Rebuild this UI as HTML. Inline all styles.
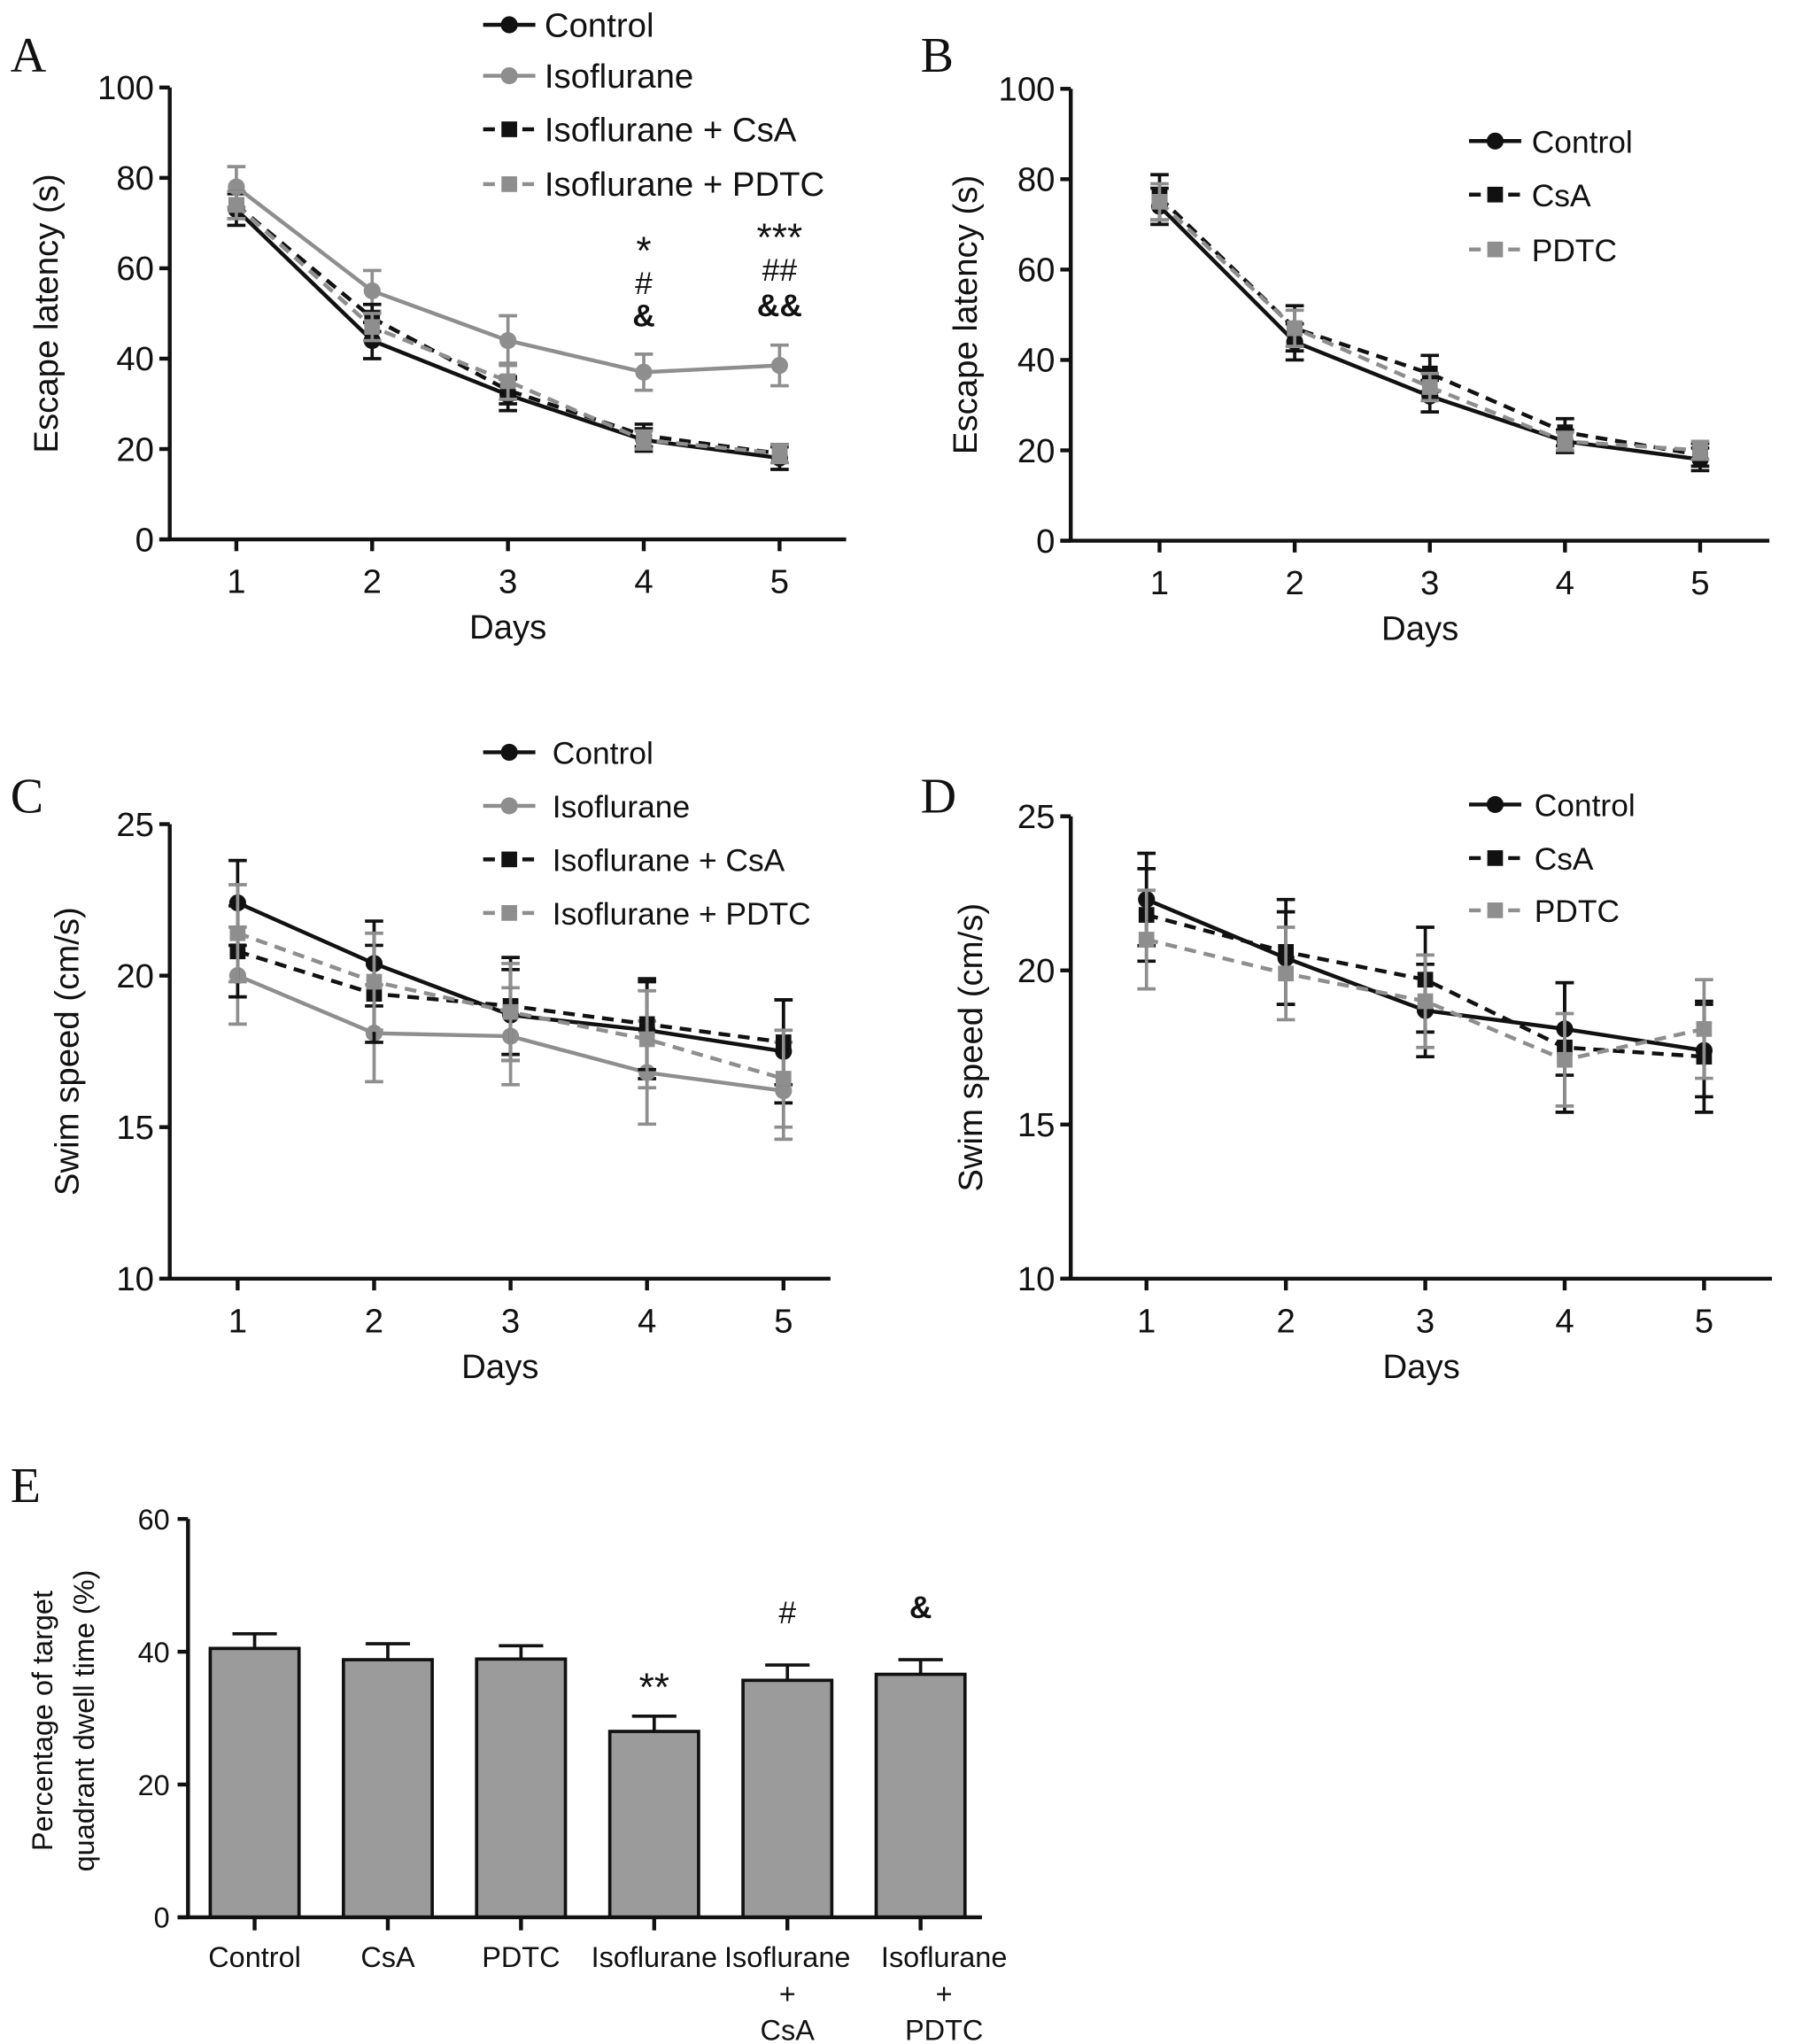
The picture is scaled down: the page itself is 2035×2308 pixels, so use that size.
<!DOCTYPE html>
<html><head><meta charset="utf-8"><style>
html,body{margin:0;padding:0;background:#fff}
svg{display:block}
text{font-family:"Liberation Sans",Arial,sans-serif;fill:#111}
</style></head><body>
<svg id="fig" width="2035" height="2308" viewBox="0 0 1380 1565" preserveAspectRatio="none" xmlns="http://www.w3.org/2000/svg"></svg>
<script>
const days=["1","2","3","4","5"];
// Panel A escape latency
const aControl=[73,44,32,22,18], aControlErr=[3.5,4,3.5,2.5,2.5];
const aIso=[78,55,44,37,38.5], aIsoErr=[4.5,4.5,5.5,4,4.5];
const aCsA=[74,49,33,23,19], aCsAErr=[3,3,3,2.5,2];
const aPDTC=[74,47,35,22,19], aPDTCErr=[3,3,4,2,2];
const aTicks=[0,20,40,60,80,100];
// Panel B
const bControl=[74,44,32,22,18], bControlErr=[4,4,3.5,2.5,2.5];
const bCsA=[76,47,37,24,19], bCsAErr=[5,5,4,3,2.5];
const bPDTC=[75,47,34,22,20], bPDTCErr=[4,4,3,2,2];
// Panel C swim speed
const cControl=[22.4,20.4,18.7,18.2,17.5], cControlErr=[1.4,1.4,1.5,1.6,1.7];
const cIso=[20,18.1,18,16.8,16.2], cIsoErr=[1.6,1.6,1.6,1.7,1.6];
const cCsA=[20.8,19.4,19,18.4,17.8], cCsAErr=[1.5,1.6,1.6,1.5,1.4];
const cPDTC=[21.4,19.8,18.8,17.9,16.6], cPDTCErr=[1.6,1.6,1.6,1.6,1.6];
const cTicks=[10,15,20,25];
// Panel D
const dControl=[22.3,20.4,18.7,18.1,17.4], dControlErr=[1.5,1.5,1.5,1.5,1.5];
const dCsA=[21.8,20.6,19.7,17.5,17.2], dCsAErr=[1.5,1.7,1.7,2.1,1.8];
const dPDTC=[21,19.9,19,17.1,18.1], dPDTCErr=[1.6,1.5,1.5,1.5,1.6];
// Panel E
const eCats=[["Control"],["CsA"],["PDTC"],["Isoflurane"],["Isoflurane","+","CsA"],["Isoflurane","+","PDTC"]];
const eVals=[40.5,38.8,38.9,28,35.7,36.6];
const eErr=[2.2,2.4,2,2.3,2.3,2.2];
const eTicks=[0,20,40,60];
const eMarks=["","","","**","#","&"];

const NS="http://www.w3.org/2000/svg";
const svg=document.getElementById('fig');
function mk(tag,attrs,parent,txt){const e=document.createElementNS(NS,tag);for(const k in attrs)e.setAttribute(k,attrs[k]);if(txt!==undefined)e.textContent=txt;(parent||svg).appendChild(e);return e;}
const BLK="#111", GRY="#8e8e8e";

function linePanel(id,cfg){
  const g=mk('g',{});
  
  
  const {x0,x1,yTop,yBot,vmin,vmax,ticks,dayX,series}=cfg;
  const ys=v=>yBot-(v-vmin)/(vmax-vmin)*(yBot-yTop);
  const xs=i=>dayX[0]+i*(dayX[1]-dayX[0]);
  const ya=mk('line',{x1:x0,y1:yTop,x2:x0,y2:yBot,stroke:BLK,'stroke-width':3},g);
  
  const xa=mk('line',{x1:x0-8,y1:yBot,x2:x1,y2:yBot,stroke:BLK,'stroke-width':3},g);
  
  ticks.forEach(t=>{
    mk('line',{x1:x0-8,y1:ys(t),x2:x0,y2:ys(t),stroke:BLK,'stroke-width':3},g);
    const tl=mk('text',{x:x0-12,y:ys(t)+9,'text-anchor':'end','font-size':26},g,String(t));
    
  });
  days.forEach((d,i)=>{
    mk('line',{x1:xs(i),y1:yBot,x2:xs(i),y2:yBot+9,stroke:BLK,'stroke-width':3},g);
    const tl=mk('text',{x:xs(i),y:yBot+41,'text-anchor':'middle','font-size':26},g,d);
    
  });
  const xt=mk('text',{x:(x0+x1)/2,y:yBot+76,'text-anchor':'middle','font-size':26},g,'Days');
  
  const cy=(yTop+yBot)/2;
  const yt=mk('text',{x:0,y:0,'text-anchor':'middle','font-size':26,transform:`translate(${cfg.ylx},${cy}) rotate(-90)`},g,cfg.ylabel);
  
  series.forEach(s=>{
    const sg=mk('g',{},g);
    
    
    const pts=s.v.map((v,i)=>xs(i)+','+ys(v)).join(' ');
    mk('polyline',{points:pts,fill:'none',stroke:s.c,'stroke-width':3,'stroke-dasharray':s.dash?'9,6':'none'},sg);
    s.v.forEach((v,i)=>{
      const x=xs(i),e=s.e[i];
      mk('line',{x1:x,y1:ys(v+e),x2:x,y2:ys(v-e),stroke:s.c,'stroke-width':2.5},sg);
      mk('line',{x1:x-7,y1:ys(v+e),x2:x+7,y2:ys(v+e),stroke:s.c,'stroke-width':2.5},sg);
      mk('line',{x1:x-7,y1:ys(v-e),x2:x+7,y2:ys(v-e),stroke:s.c,'stroke-width':2.5},sg);
      let m;
      if(s.sq) m=mk('rect',{x:x-6,y:ys(v)-6,width:12,height:12,fill:s.c},sg);
      else m=mk('circle',{cx:x,cy:ys(v),r:6.5,fill:s.c},sg);
      
      
    });
  });
  const lg=mk('g',{},g);
  
  series.forEach((s,k)=>{
    const y=cfg.legY[k], lx=cfg.legX;
    const le=mk('g',{},lg);
    
    mk('line',{x1:lx,y1:y,x2:lx+40,y2:y,stroke:s.c,'stroke-width':3,'stroke-dasharray':s.dash?'9,6':'none'},le);
    if(s.sq) mk('rect',{x:lx+14,y:y-6,width:12,height:12,fill:s.c},le);
    else mk('circle',{cx:lx+20,cy:y,r:6.5,fill:s.c},le);
    mk('text',{x:cfg.legTX,y:y+9,'font-size':cfg.legFS||26},le,s.name);
  });
  return {g,xs,ys};
}

function letter(t,x,y){const e=mk('text',{x:x,y:y,'font-size':38,style:'font-family:"Liberation Serif",serif'},svg,t);}
letter('A',8,55);letter('B',705,55);letter('C',8,622);letter('D',705,622);letter('E',8,1150);

linePanel('panel-a',{x0:130,x1:648,yTop:67,yBot:413,vmin:0,vmax:100,ticks:aTicks,dayX:[181,285],ylx:44,ylabel:'Escape latency (s)',
 legX:370,legTX:417,legY:[19,58,99,141],
 series:[{key:'control',name:'Control',v:aControl,e:aControlErr,c:BLK},
 {key:'isoflurane',name:'Isoflurane',v:aIso,e:aIsoErr,c:GRY},
 {key:'iso-csa',name:'Isoflurane + CsA',v:aCsA,e:aCsAErr,c:BLK,dash:1,sq:1},
 {key:'iso-pdtc',name:'Isoflurane + PDTC',v:aPDTC,e:aPDTCErr,c:GRY,dash:1,sq:1}]});
[['*',493,202],['#',493,225],['&',493,250],['***',597,192],['##',597,215],['&&',597,242]].forEach(a=>{
 const t=mk('text',{x:a[1],y:a[2],'text-anchor':'middle','font-size':a[0].includes('*')?30:24,'font-weight':a[0].includes('&')?'bold':'normal'},svg,a[0]);
 });

linePanel('panel-b',{x0:820,x1:1355,yTop:68,yBot:414,vmin:0,vmax:100,ticks:aTicks,dayX:[888,991.5],ylx:748,ylabel:'Escape latency (s)',
 legX:1125,legTX:1173,legY:[108,149,191],legFS:24,
 series:[{key:'control',name:'Control',v:bControl,e:bControlErr,c:BLK},
 {key:'csa',name:'CsA',v:bCsA,e:bCsAErr,c:BLK,dash:1,sq:1},
 {key:'pdtc',name:'PDTC',v:bPDTC,e:bPDTCErr,c:GRY,dash:1,sq:1}]});

linePanel('panel-c',{x0:130,x1:636,yTop:631,yBot:979,vmin:10,vmax:25,ticks:cTicks,dayX:[182,286.5],ylx:60,ylabel:'Swim speed (cm/s)',
 legX:370,legTX:423,legY:[576,617,658,699],legFS:24,
 series:[{key:'control',name:'Control',v:cControl,e:cControlErr,c:BLK},
 {key:'isoflurane',name:'Isoflurane',v:cIso,e:cIsoErr,c:GRY},
 {key:'iso-csa',name:'Isoflurane + CsA',v:cCsA,e:cCsAErr,c:BLK,dash:1,sq:1},
 {key:'iso-pdtc',name:'Isoflurane + PDTC',v:cPDTC,e:cPDTCErr,c:GRY,dash:1,sq:1}]});

linePanel('panel-d',{x0:820,x1:1357,yTop:625,yBot:979,vmin:10,vmax:25,ticks:cTicks,dayX:[878,984.75],ylx:752,ylabel:'Swim speed (cm/s)',
 legX:1125,legTX:1175,legY:[616,657,697],legFS:24,
 series:[{key:'control',name:'Control',v:dControl,e:dControlErr,c:BLK},
 {key:'csa',name:'CsA',v:dCsA,e:dCsAErr,c:BLK,dash:1,sq:1},
 {key:'pdtc',name:'PDTC',v:dPDTC,e:dPDTCErr,c:GRY,dash:1,sq:1}]});

(function(){
 const g=mk('g',{});
 
 const x0=144,x1=752,yTop=1163,yBot=1468,vmax=60;
 const ys=v=>yBot-v/vmax*(yBot-yTop);
 const xc=i=>195+i*102;
 const bw=68;
 eVals.forEach((v,i)=>{
   const x=xc(i),e=eErr[i];
   mk('line',{x1:x,y1:ys(v),x2:x,y2:ys(v+e),stroke:BLK,'stroke-width':2.5},g);
   mk('line',{x1:x-17,y1:ys(v+e),x2:x+17,y2:ys(v+e),stroke:BLK,'stroke-width':2.5},g);
   const b=mk('rect',{x:x-bw/2,y:ys(v),width:bw,height:yBot-ys(v),fill:'#9b9b9b',stroke:BLK,'stroke-width':2.5},g);
   
   
   mk('line',{x1:x,y1:yBot,x2:x,y2:yBot+10,stroke:BLK,'stroke-width':3},g);
   eCats[i].forEach((ln,k)=>{
     const t=mk('text',{x:x+(i===5?18:0),y:yBot+[38,66,94][k],'text-anchor':'middle','font-size':22},g,ln);
     
   });
   if(eMarks[i]){
     const t=mk('text',{x:x,y:ys(v+e)-(eMarks[i]==='**'?12:32),'text-anchor':'middle','font-size':eMarks[i]==='**'?30:24,'font-weight':eMarks[i]==='&'?'bold':'normal'},g,eMarks[i]);
     
   }
 });
 mk('line',{x1:x0,y1:yTop,x2:x0,y2:yBot,stroke:BLK,'stroke-width':3},g);
 mk('line',{x1:x0-8,y1:yBot,x2:x1,y2:yBot,stroke:BLK,'stroke-width':3},g);
 eTicks.forEach(t=>{
   mk('line',{x1:x0-8,y1:ys(t),x2:x0,y2:ys(t),stroke:BLK,'stroke-width':3},g);
   const tl=mk('text',{x:x0-14,y:ys(t)+8,'text-anchor':'end','font-size':22},g,String(t));
   
 });
 const cy=(yTop+yBot)/2+2;
 const t1=mk('text',{x:0,y:0,'text-anchor':'middle','font-size':22,transform:`translate(40,${cy}) rotate(-90)`},g,'Percentage of target');
 
 const t2=mk('text',{x:0,y:0,'text-anchor':'middle','font-size':22,transform:`translate(72,${cy}) rotate(-90)`},g,'quadrant dwell time (%)');
 
})();
</script>
</body></html>
